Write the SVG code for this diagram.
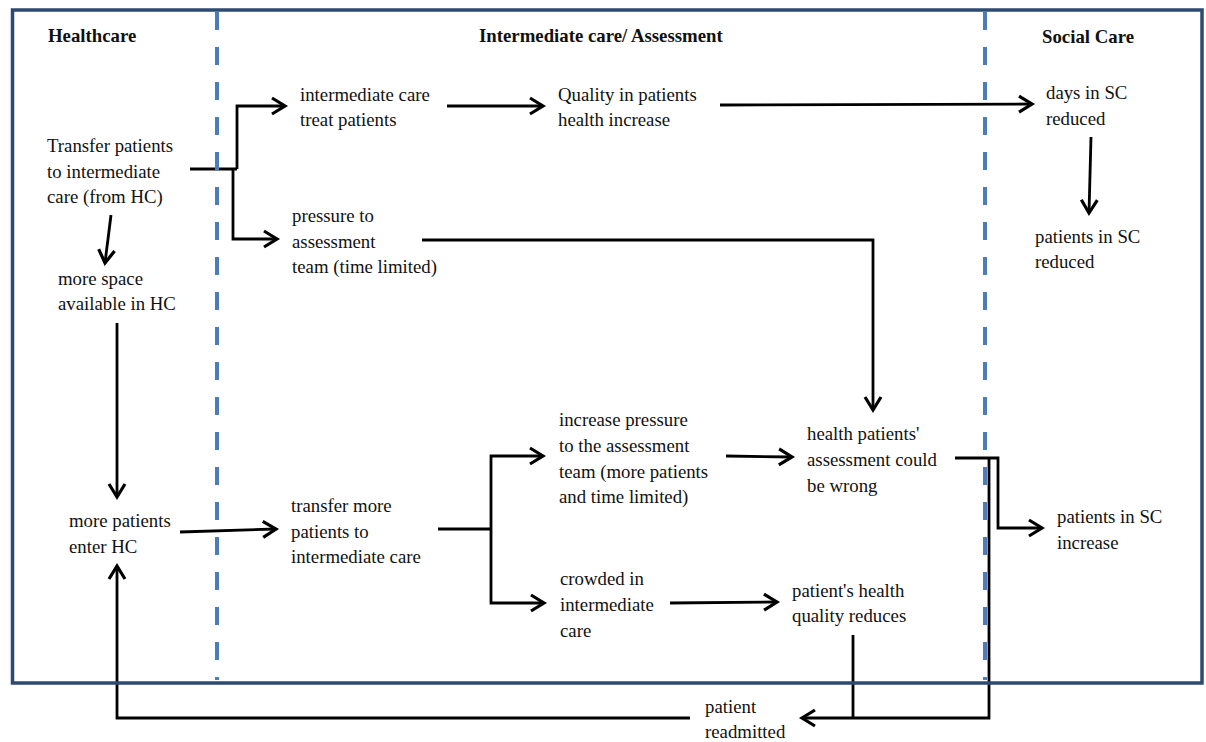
<svg xmlns="http://www.w3.org/2000/svg" width="1206" height="742" viewBox="0 0 1206 742">
<style>
text{font-family:"Liberation Serif","Times New Roman",serif;font-size:18.8px;fill:#111}
.h{font-weight:bold}
.c{fill:none;stroke:#000;stroke-width:2.8;stroke-linejoin:miter}
.a{marker-end:url(#arr)}
.frame{fill:none;stroke:#2d4a70;stroke-width:3.5}
.lane{stroke:#4a7ebb;stroke-width:4;stroke-dasharray:18 17}
</style>
<defs>
<marker id="arr" markerUnits="userSpaceOnUse" markerWidth="22" markerHeight="22" viewBox="0 0 22 22" refX="17" refY="11" orient="auto">
<path d="M4,3 L17,11 L4,19" fill="none" stroke="#000" stroke-width="3.2"/>
</marker>
</defs>
<rect width="1206" height="742" fill="#fff"/>
<g id="connectors">
<path class="c" d="M190,169 L237,169"/>
<path class="c a" d="M237,169 L237,106 L285,106"/>
<path class="c a" d="M233,169 L233,239 L277,239"/>
<path class="c a" d="M447,106 L543,106"/>
<path class="c a" d="M720,105 L1032,104"/>
<path class="c a" d="M1091,137 L1089,213"/>
<path class="c a" d="M422,240 L873,240 L873,410"/>
<path class="c a" d="M111,215 L105,263"/>
<path class="c a" d="M117,323 L117,497"/>
<path class="c a" d="M180,532 L276,529"/>
<path class="c" d="M438,529 L491,529"/>
<path class="c a" d="M491,529 L491,456 L543,456"/>
<path class="c a" d="M491,529 L491,603 L544,603"/>
<path class="c a" d="M726,456 L792,457"/>
<path class="c a" d="M670,603 L777,602"/>
<path class="c a" d="M955,458 L998,458 L998,528 L1042,528"/>
<path class="c a" d="M989,458 L989,718 L802,718"/>
<path class="c" d="M853,635 L853,718"/>
<path class="c a" d="M690,718 L117,718 L117,566"/>
</g>
<rect class="frame" x="12.5" y="10" width="1189.5" height="673"/>
<line class="lane" x1="217" y1="12" x2="217" y2="680"/>
<line class="lane" x1="985" y1="12" x2="985" y2="680"/>
<g id="headers">
<text class="h" x="48" y="42">Healthcare</text>
<text class="h" x="479" y="42">Intermediate care/ Assessment</text>
<text class="h" x="1042" y="43">Social Care</text>
</g>
<g id="n-transfer"><text x="47" y="152">Transfer patients</text><text x="47" y="178">to intermediate</text><text x="47" y="203">care (from HC)</text></g>
<g id="n-ic-treat"><text x="300" y="101">intermediate care</text><text x="300" y="126">treat patients</text></g>
<g id="n-quality"><text x="558" y="101">Quality in patients</text><text x="558" y="126">health increase</text></g>
<g id="n-days-sc"><text x="1046" y="99">days in SC</text><text x="1046" y="125">reduced</text></g>
<g id="n-sc-reduced"><text x="1035" y="243">patients in SC</text><text x="1035" y="268">reduced</text></g>
<g id="n-pressure"><text x="292" y="222">pressure to</text><text x="292" y="248">assessment</text><text x="292" y="273">team (time limited)</text></g>
<g id="n-space"><text x="58" y="285">more space</text><text x="58" y="310">available in HC</text></g>
<g id="n-more-patients"><text x="69" y="527">more patients</text><text x="69" y="553">enter HC</text></g>
<g id="n-transfer-more"><text x="291" y="512">transfer more</text><text x="291" y="538">patients to</text><text x="291" y="563">intermediate care</text></g>
<g id="n-increase-pressure"><text x="559" y="426">increase pressure</text><text x="559" y="452">to the assessment</text><text x="559" y="478">team (more patients</text><text x="559" y="503">and time limited)</text></g>
<g id="n-wrong"><text x="807" y="440">health patients'</text><text x="807" y="466">assessment could</text><text x="807" y="492">be wrong</text></g>
<g id="n-sc-increase"><text x="1057" y="523">patients in SC</text><text x="1057" y="549">increase</text></g>
<g id="n-crowded"><text x="560" y="585">crowded in</text><text x="560" y="611">intermediate</text><text x="560" y="637">care</text></g>
<g id="n-quality-reduces"><text x="792" y="597">patient's health</text><text x="792" y="622">quality reduces</text></g>
<g id="n-readmitted"><text x="705" y="713">patient</text><text x="705" y="738">readmitted</text></g>
</svg>
